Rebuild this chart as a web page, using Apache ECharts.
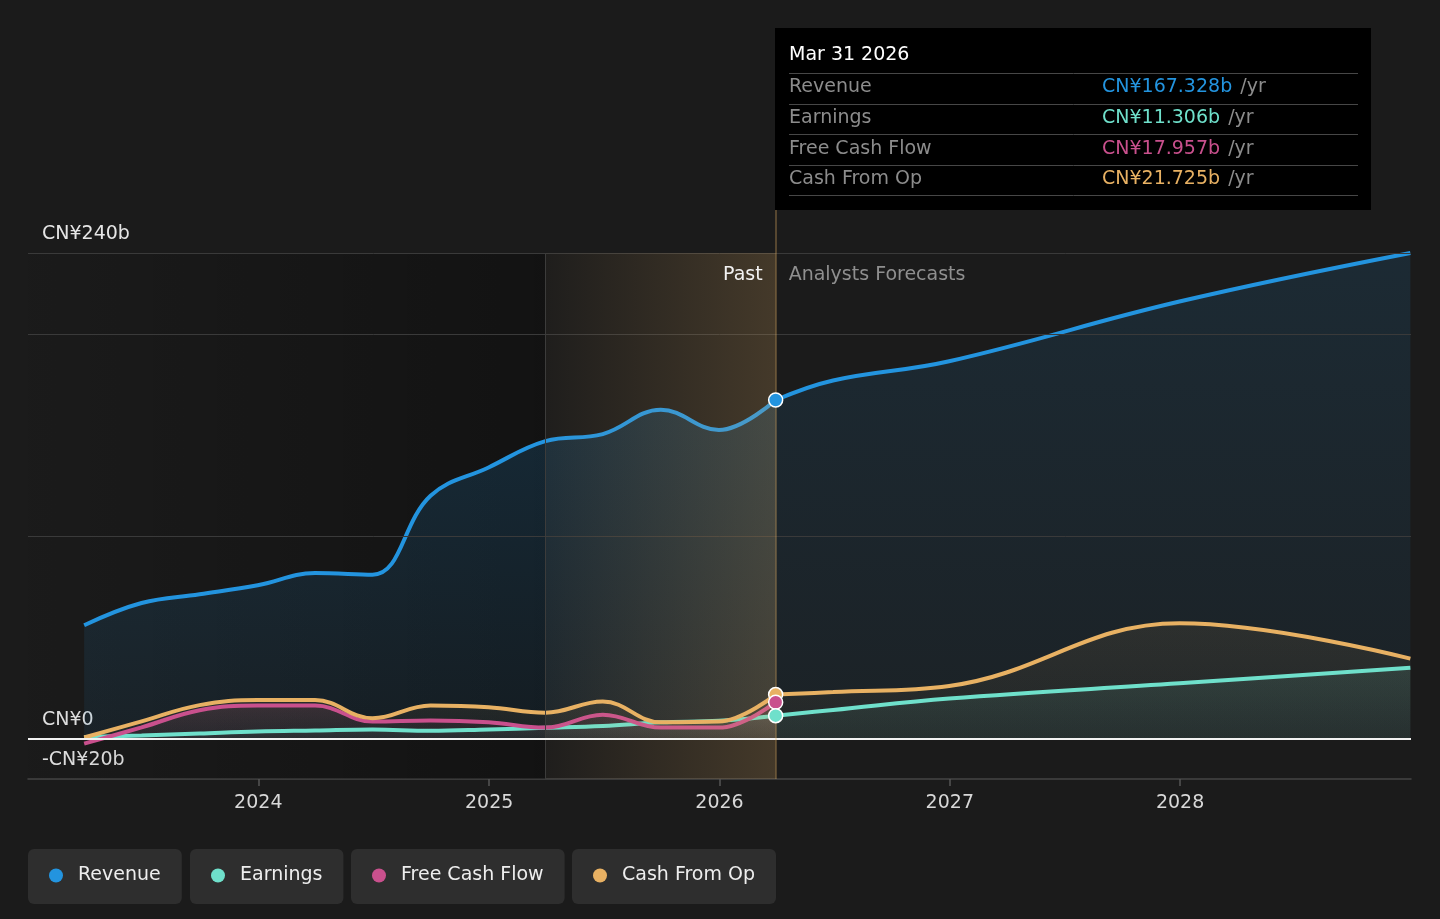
<!DOCTYPE html>
<html lang="en">
<head>
<meta charset="UTF-8">
<title>Revenue, Earnings and Cash Flow</title>
<script src="https://cdn.jsdelivr.net/npm/echarts@6.0.0/dist/echarts.min.js"></script>
<style>
  html, body { margin: 0; padding: 0; background: #1b1b1b; }
  #chart { width: 1440px; height: 919px; }
</style>
</head>
<body>
<div id="chart"></div>
<script>
// reported figures, trailing twelve months, CN¥ billions
var pastDates = ['2023-03-31', '2023-06-30', '2023-09-30', '2023-12-31', '2024-03-31', '2024-06-30', '2024-09-30',
  '2024-12-31', '2025-03-31', '2025-06-30', '2025-09-30', '2025-12-31', '2026-03-31'];
var revenuePast = [56, 67, 71.3, 75.8, 81.8, 81, 120, 134, 147, 150.5, 162.5, 152.5, 167.328];
var earningsPast = [0.8, 1.5, 2.5, 3.5, 4, 4.5, 3.8, 4.5, 5.3, 6.2, 8, 8.8, 11.306];
var fcfPast = [-2.5, 5.5, 14, 16.3, 16.3, 8.4, 8.9, 8, 5.4, 11.8, 5.4, 5.4, 17.957];
var cashOpPast = [0.5, 8.5, 16.5, 19, 19, 10, 16.3, 15.5, 12.8, 18.3, 8, 8.4, 21.725];

// analyst forecasts
var forecastDates = ['2026-03-31', '2026-06-30', '2026-12-31', '2027-12-31', '2028-12-31'];
var revenueForecast = [167.328, 177, 186.5, 216, 240];
var earningsForecast = [11.306, 14.1, 19.8, 27.3, 35];
var cashOpForecast = [21.725, 23, 26, 57, 39.5];

var yLabelValues = [-20, 0, 240];
var gridValues = [100, 200, 240];
var yearTicks = [2024, 2025, 2026, 2027, 2028];
var axisStart = '2023-01-01';
var axisEnd = '2029-01-01';
var highlightStart = '2025-03-31';
var highlightEnd = '2026-03-31';

var names = ['Revenue', 'Earnings', 'Free Cash Flow', 'Cash From Op'];
var colors = ['#2394df', '#6fe0cb', '#c9508d', '#e8b163'];

var FONT = 'DejaVu Sans';
var yMax = 261.25; // leaves room above the 240 line for the marker line up to the tooltip
var months = ['Jan', 'Feb', 'Mar', 'Apr', 'May', 'Jun', 'Jul', 'Aug', 'Sep', 'Oct', 'Nov', 'Dec'];

function ts(s) {
	var p = s.split('-');
	return +new Date(+p[0], +p[1] - 1, +p[2]);
}
function pairs(dates, vals) {
	return dates.map(function (d, i) { return [ts(d), vals[i]]; });
}
function fmtAxis(v) {
	if (v === 0) return 'CN¥0';
	return (v < 0 ? '-' : '') + 'CN¥' + Math.abs(v) + 'b';
}
function grad(x2, y2, a, b) {
	return new echarts.graphic.LinearGradient(0, 0, x2, y2, [{offset: 0, color: a}, {offset: 1, color: b}]);
}
function metricSeries(i, dates, vals, fillTop, fillBottom) {
	return {
		name: names[i], type: 'line', data: pairs(dates, vals),
		smooth: 0.4, symbol: 'none', z: 2,
		lineStyle: {color: colors[i], width: 4},
		itemStyle: {color: colors[i]},
		areaStyle: {color: grad(0, 1, fillTop, fillBottom)},
		emphasis: {disabled: true}
	};
}

var last = pastDates.length - 1;
var yearTickValues = yearTicks.map(function (y) { return +new Date(y, 0, 1); });

var chart = echarts.init(document.getElementById('chart'));

var option = {
	backgroundColor: '#1b1b1b',
	animation: false,
	textStyle: {fontFamily: FONT},
	grid: {left: 28, right: 29, top: 210, bottom: 140},
	legend: names.map(function (n, i) {
		return {
			data: [n], left: [28, 190, 351, 572][i], top: 849,
			icon: 'circle', itemWidth: 14, itemHeight: 14,
			padding: [17, 21, 19, 21], backgroundColor: '#2e2e2e', borderRadius: 6,
			selectedMode: false,
			textStyle: {color: '#eeeeee', fontSize: 19, padding: [0, 0, 0, 10]}
		};
	}),
	xAxis: {
		type: 'value', min: ts(axisStart), max: ts(axisEnd),
		axisLine: {onZero: false, lineStyle: {color: '#454545', width: 1.5}},
		axisTick: {show: true, inside: false, customValues: yearTickValues, length: 7, lineStyle: {color: '#555', width: 1.5}},
		axisLabel: {
			customValues: yearTickValues, color: '#d8d8d8', fontSize: 19, margin: 15,
			formatter: function (v) { return String(new Date(v).getFullYear()); }
		},
		splitLine: {show: false}
	},
	yAxis: {
		type: 'value', min: -20, max: yMax,
		axisLine: {show: false}, axisTick: {show: false}, splitLine: {show: false},
		axisLabel: {
			inside: true, customValues: yLabelValues, formatter: fmtAxis,
			color: '#e6e6e6', fontSize: 19, margin: 14, verticalAlign: 'bottom', padding: [0, 0, 9, 0]
		}
	},
	series: [
		{
			// background: darker past region, grid lines, band edge
			type: 'line', data: [], z: 1, silent: true,
			markArea: {
				silent: true,
				label: {show: false},
				data: [
					[{xAxis: ts(axisStart), yAxis: 240, itemStyle: {color: grad(1, 0, 'rgba(0,0,0,0.02)', 'rgba(0,0,0,0.32)')}},
						{xAxis: ts(highlightStart), yAxis: -20}],
					[{name: 'Analysts Forecasts', xAxis: ts(highlightEnd), yAxis: 240, itemStyle: {color: 'rgba(0,0,0,0)'},
						label: {show: true, position: 'insideTopLeft', distance: 13, color: '#8f8f8f', fontSize: 19}},
						{xAxis: ts(axisEnd), yAxis: -20}]
				]
			},
			markLine: {
				silent: true, symbol: ['none', 'none'], label: {show: false},
				lineStyle: {color: '#3a3a3a', width: 1, type: 'solid'},
				data: gridValues.map(function (v) { return {yAxis: v}; }).concat([
					[{coord: [ts(highlightStart), 240]}, {coord: [ts(highlightStart), -20]}]
				])
			}
		},
		metricSeries(0, pastDates, revenuePast, 'rgba(35,148,223,0.25)', 'rgba(35,148,223,0.1)'),
		metricSeries(0, forecastDates, revenueForecast, 'rgba(35,148,223,0.18)', 'rgba(35,148,223,0.08)'),
		metricSeries(1, pastDates, earningsPast, 'rgba(111,224,203,0.16)', 'rgba(111,224,203,0.06)'),
		metricSeries(1, forecastDates, earningsForecast, 'rgba(111,224,203,0.16)', 'rgba(111,224,203,0.07)'),
		metricSeries(2, pastDates, fcfPast, 'rgba(201,80,141,0.16)', 'rgba(201,80,141,0.05)'),
		metricSeries(3, pastDates, cashOpPast, 'rgba(232,177,99,0.12)', 'rgba(232,177,99,0.05)'),
		metricSeries(3, forecastDates, cashOpForecast, 'rgba(232,177,99,0.12)', 'rgba(232,177,99,0.05)'),
		{
			// overlay: highlighted last year, zero line, marker line and dots
			type: 'line', data: [], z: 10, silent: true,
			markArea: {
				silent: true, z: 10,
				itemStyle: {color: grad(1, 0, 'rgba(233,178,100,0.02)', 'rgba(233,178,100,0.2)')},
				label: {show: true, position: 'insideTopRight', distance: 13, color: '#f2f2f2', fontSize: 19},
				data: [[{name: 'Past', xAxis: ts(highlightStart), yAxis: 240}, {xAxis: ts(highlightEnd), yAxis: -20}]]
			},
			markLine: {
				silent: true, z: 11, symbol: ['none', 'none'], label: {show: false},
				data: [
					{yAxis: 0, lineStyle: {color: '#f2f2f2', width: 2, type: 'solid'}},
					{xAxis: ts(highlightEnd), lineStyle: {color: 'rgba(233,178,100,0.4)', width: 1.5, type: 'solid'}}
				]
			},
			markPoint: {
				silent: true, z: 12, symbol: 'circle', symbolSize: 14, label: {show: false},
				data: [revenuePast, cashOpPast, fcfPast, earningsPast].map(function (arr, k) {
					var ci = [0, 3, 2, 1][k];
					return {coord: [ts(pastDates[last]), arr[last]],
						itemStyle: {color: colors[ci], borderColor: '#ffffff', borderWidth: 1.5}};
				})
			}
		}
	]
};

chart.setOption(option);

// tooltip box for the last reported quarter
var tipLeft = Math.round(chart.convertToPixel({xAxisIndex: 0}, ts(pastDates[last]))) - 1;
var tipValues = [revenuePast[last], earningsPast[last], fcfPast[last], cashOpPast[last]];
var d = pastDates[last].split('-');
var tipTitle = months[+d[1] - 1] + ' ' + (+d[2]) + ' ' + d[0];
var boxW = 596, boxH = 182, padX = 14, rowTop = 45, rowH = 30.6, valueX = 327;

var tipChildren = [
	{type: 'rect', shape: {x: 0, y: 0, width: boxW, height: boxH}, style: {fill: '#000000'}},
	{type: 'text', x: padX, y: 27, style: {text: tipTitle, fill: '#ffffff', fontSize: 19, fontFamily: FONT, verticalAlign: 'middle'}}
];
for (var r = 0; r <= names.length; r++) {
	var ly = Math.round(rowTop + r * rowH) + 0.5;
	tipChildren.push({type: 'line', shape: {x1: padX, y1: ly, x2: boxW - padX + 1, y2: ly},
		style: {stroke: '#474747', lineWidth: 1}});
	if (r < names.length) {
		var ty = rowTop + r * rowH + 14.5;
		tipChildren.push({type: 'text', x: padX, y: ty,
			style: {text: names[r], fill: '#8c8c8c', fontSize: 19, fontFamily: FONT, verticalAlign: 'middle'}});
		tipChildren.push({type: 'text', x: valueX, y: ty,
			style: {
				text: '{v|CN¥' + tipValues[r].toFixed(3) + 'b} {u|/yr}', fontSize: 19, fontFamily: FONT, verticalAlign: 'middle',
				rich: {
					v: {fill: colors[r], fontSize: 19, fontFamily: FONT},
					u: {fill: '#8c8c8c', fontSize: 19, fontFamily: FONT, padding: [0, 0, 0, 2]}
				}
			}});
	}
}

chart.setOption({
	graphic: [{type: 'group', left: tipLeft, top: 28, z: 100, silent: true, children: tipChildren}]
});
</script>
</body>
</html>
